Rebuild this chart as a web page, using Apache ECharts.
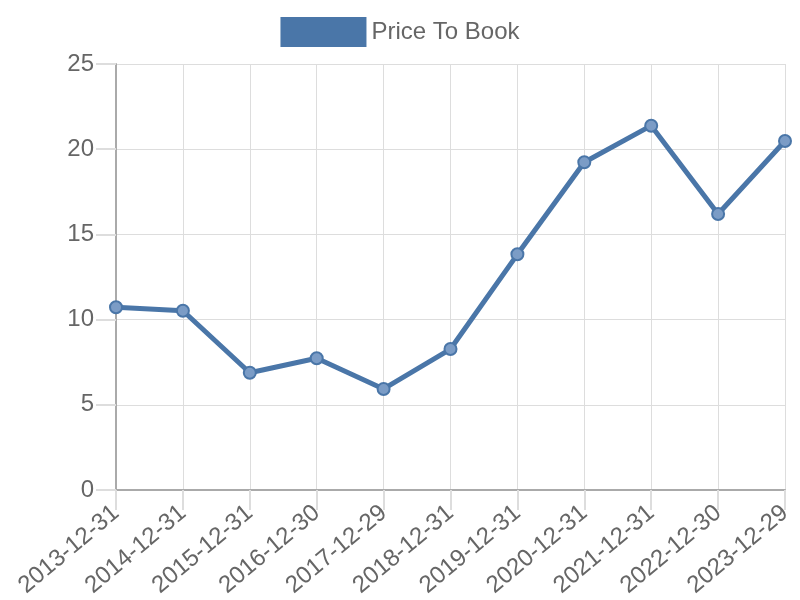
<!DOCTYPE html>
<html><head><meta charset="utf-8">
<script src="https://cdn.jsdelivr.net/npm/echarts@6/dist/echarts.min.js"></script>
<style>html,body{margin:0;padding:0;background:#fff}#c{width:800px;height:600px}</style>
</head><body><div id="c"></div>
<script>
const categories = ["2013-12-31","2014-12-31","2015-12-31","2016-12-30","2017-12-29","2018-12-31","2019-12-31","2020-12-31","2021-12-31","2022-12-30","2023-12-29"];
const priceToBook = [10.72,10.52,6.88,7.73,5.93,8.27,13.83,19.23,21.38,16.2,20.48];
const seriesName = "Price To Book";
const chart = echarts.init(document.getElementById('c'), null, {renderer:'canvas'});
const font = '"Liberation Sans", Arial, sans-serif';
chart.setOption({
  animation:false,
  legend:{top:12,left:'center',icon:'rect',itemWidth:86,itemHeight:30,itemGap:9,
    textStyle:{fontSize:24,color:'#666',fontFamily:font},
    itemStyle:{color:'#4a76a8',borderWidth:0},
    data:[seriesName]},
  grid:{left:116,right:15,top:64,bottom:110,containLabel:false},
  xAxis:{type:'category',data:categories,boundaryGap:false,
    axisLine:{lineStyle:{color:'#aaa',width:2}},
    axisTick:{show:true,length:20,lineStyle:{color:'#ddd',width:2}},
    splitLine:{show:true,lineStyle:{color:'#ddd',width:1}},
    axisLabel:{rotate:40,fontSize:24,color:'#666',fontFamily:font,margin:20}},
  yAxis:{type:'value',min:0,max:25,interval:5,
    axisLine:{show:true,lineStyle:{color:'#aaa',width:2}},
    axisTick:{show:true,length:20,lineStyle:{color:'#ddd',width:2}},
    splitLine:{show:true,lineStyle:{color:'#ddd',width:1}},
    axisLabel:{fontSize:24,color:'#666',fontFamily:font,margin:22}},
  series:[{name:seriesName,type:'line',data:priceToBook,
    lineStyle:{color:'#4a76a8',width:5},
    symbol:'circle',symbolSize:12,
    itemStyle:{color:'#7b9cc6',borderColor:'#4a76a8',borderWidth:2}}]
});
</script></body></html>
